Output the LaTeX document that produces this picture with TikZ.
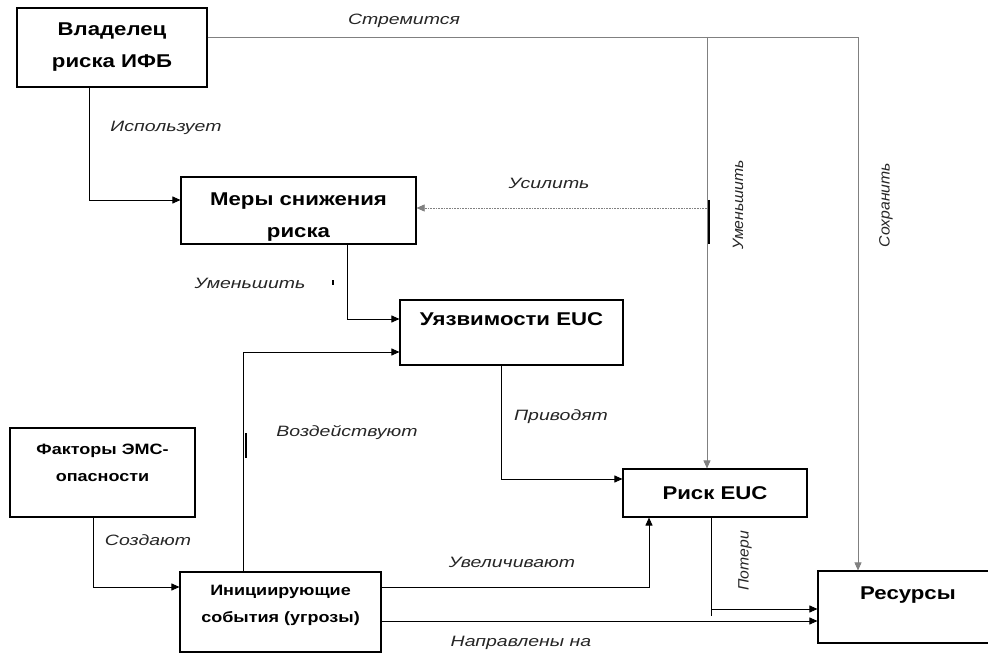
\documentclass[tikz,border=0pt]{standalone}
\usepackage{fontspec}
\setmainfont{Liberation Sans}
\newfontfamily\boxfont[FakeStretch=1.2]{Liberation Sans}
\newfontfamily\linkfont[FakeStretch=1.3]{Liberation Sans}
\newfontfamily\sidefont[FakeStretch=1.05]{Liberation Sans}
\usetikzlibrary{arrows.meta, positioning}

\begin{document}
\begin{tikzpicture}[
    x=1pt, y=-1pt,
    box/.style={rectangle, draw, line width=1.1pt, align=center, inner sep=0pt, font=\boxfont\bfseries\fontsize{18.5}{32}\selectfont},
    smallbox/.style={box, font=\boxfont\bfseries\fontsize{15}{27}\selectfont},
    link/.style={line width=0.9pt, -{Triangle[length=8pt, width=7pt]}},
    graylink/.style={link, line width=0.7pt, gray},
    weaklink/.style={link, line width=0.6pt, gray, densely dotted},
    tick/.style={line width=1.3pt},
    lbl/.style={font=\linkfont\itshape\fontsize{15}{18}\selectfont, text=black!85},
    sidelbl/.style={font=\sidefont\itshape\fontsize{15}{18}\selectfont, text=black!85, rotate=90}
]

\clip (0,0) rectangle (988,655);
\fill[white] (0,0) rectangle (988,655);

% Boxes
\node[box, minimum width=190, minimum height=79] (owner) at (112,47.5) {Владелец\\риска ИФБ};
\node[box, minimum width=235, minimum height=67, text height=57pt] (measures) at (298.5,210.5) {Меры снижения\\риска};
\node[box, minimum width=223, minimum height=65, text depth=27pt] (vuln) at (511.5,332.5) {Уязвимости EUC};
\node[smallbox, minimum width=185, minimum height=89, text depth=19pt] (factors) at (102.5,472.5) {Факторы ЭМС-\\опасности};
\node[smallbox, minimum width=201, minimum height=80, text depth=16pt] (events) at (280.5,612) {Инициирующие\\события (угрозы)};
\node[box, minimum width=184, minimum height=48] (risk) at (715,493) {Риск EUC};
\node[box, minimum width=180, minimum height=72, text depth=28pt] (res) at (908,607) {Ресурсы};

% Owner strives: top line with two drops
\coordinate (split) at (707,37);
\coordinate (corner) at (858,37);
\draw[graylink] (owner.east |- split) -- (corner) -- (res.north -| corner);
\draw[graylink] (split) -- (risk.north -| split);

% Strengthen (dotted) from the drop line
\coordinate (boost) at (707,208);
\draw[weaklink] (boost) -- (measures.east |- boost);
\draw[tick] (709,200) -- (709,244);

% Solid connectors
\draw[link] (owner.south -| 89,0) |- (measures.west |- 0,200);
\draw[link] (measures.south -| 347,0) |- (vuln.west |- 0,319);
\draw[tick] (333,280) -- (333,285);
\draw[link] (events.north -| 243,0) |- (vuln.west |- 0,352);
\draw[tick] (246,433) -- (246,458);
\draw[link] (vuln.south -| 501,0) |- (risk.west |- 0,479);
\draw[link] (factors.south -| 93,0) |- (events.west |- 0,587);
\draw[link] (events.east |- 0,587) -| (risk.south -| 649,0);
\draw[link] (events.east |- 0,621) -- (res.west |- 0,621);
\coordinate (loss) at (711,609);
\draw[line width=0.9pt] (risk.south -| loss) -- (711,616);
\draw[link] (loss) -- (res.west |- loss);

% Connector labels
\node[lbl] (l-strive) at (404,21) {Стремится};
\node[lbl] (l-use) at (166,128) {Использует};
\node[lbl] (l-boost) at (549,183) {Усилить};
\node[sidelbl] (l-cut1) at (738,205) {Уменьшить};
\node[sidelbl] (l-keep) at (886,205) {Сохранить};
\node[lbl] (l-cut2) at (250,283) {Уменьшить};
\node[lbl] (l-act) at (347,433) {Воздействуют};
\node[lbl] (l-lead) at (561,417) {Приводят};
\node[lbl] (l-make) at (148,540) {Создают};
\node[lbl] (l-grow) at (512,562) {Увеличивают};
\node[lbl] (l-aim) at (521,643) {Направлены на};
\node[sidelbl] (l-loss) at (745,561) {Потери};

\end{tikzpicture}
\end{document}
